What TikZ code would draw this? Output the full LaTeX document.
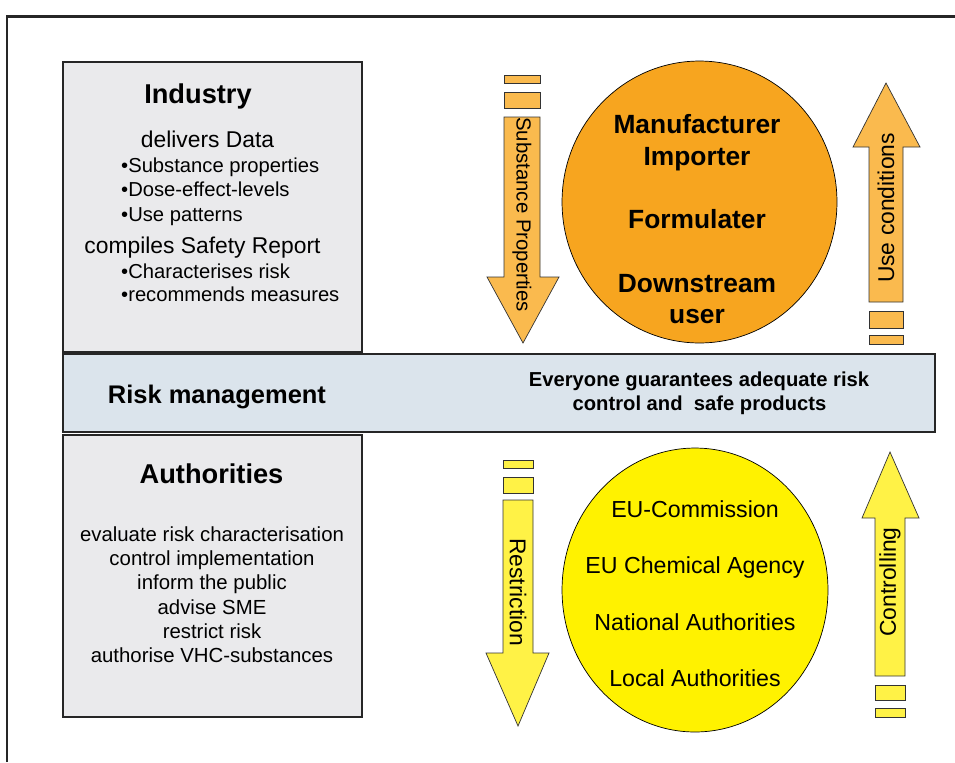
\documentclass[tikz,border=0pt]{standalone}
\usepackage{fontspec}
\setmainfont{Liberation Sans}
\usetikzlibrary{positioning,shapes.geometric}

\definecolor{panelgrey}{RGB}{234,234,236}
\definecolor{bandblue}{RGB}{219,228,236}
\definecolor{makerorange}{RGB}{247,165,31}
\definecolor{flowsorange}{RGB}{250,186,78}
\definecolor{officeyellow}{RGB}{255,242,0}
\definecolor{flowsyellow}{RGB}{255,242,70}

\tikzset{
  panel/.style={draw=black!85, line width=0.8pt, fill=panelgrey, inner sep=0pt},
  band/.style={draw=black!85, line width=0.8pt, fill=bandblue, inner sep=0pt},
  actor/.style={ellipse, draw=black, line width=0.4pt, inner sep=0pt},
  title/.style={font=\fontsize{15.5}{18}\selectfont\bfseries, anchor=base},
  subhead/.style={font=\fontsize{13}{15}\selectfont, anchor=base},
  bullet/.style={font=\fontsize{11.5}{14}\selectfont, anchor=base west},
  duty/.style={font=\fontsize{11.6}{14}\selectfont, anchor=base},
  maker/.style={font=\fontsize{15}{18}\selectfont\bfseries, anchor=base},
  office/.style={font=\fontsize{13.2}{16}\selectfont, anchor=base},
  flow/.style={draw=black!80, line width=0.4pt},
  flowlabel/.style={font=\fontsize{13}{15}\selectfont, inner sep=0pt}
}

\begin{document}
\begin{tikzpicture}[x=0.02cm, y=-0.02cm]
\useasboundingbox (0,0) rectangle (955,762);

% outer frame
\draw[line width=1.7pt, black!85] (7,762) -- (7,16) -- (955,16);

% panels and the middle band
\node (industry) [panel, minimum width=5.98cm, minimum height=5.8cm] at (212.5,207) {};
\node (authorities) [panel, minimum width=5.98cm, minimum height=5.64cm] at (212.5,576) {};
\node (riskband) [band, minimum width=17.44cm, minimum height=1.56cm] at (499,393) {};

% industry side
\node (indtitle) [title] at (198,103) {Industry};
\node (delivers) [subhead] at (207.5,147) {delivers Data};
\node (props) [bullet] at (115,172.7) {•Substance properties};
\node (dose) [bullet] at (115,196.7) {•Dose-effect-levels};
\node (usepat) [bullet] at (115,221.7) {•Use patterns};
\node (compiles) [subhead] at (202.5,253) {compiles Safety Report};
\node (charact) [bullet] at (115,278) {•Characterises risk};
\node (recomm) [bullet] at (115,301.7) {•recommends measures};

% risk management band
\node (rmtitle) [font=\fontsize{14.5}{17}\selectfont\bfseries, anchor=base] at (217,403) {Risk management};
\node (everyone) [font=\fontsize{11.5}{14}\selectfont\bfseries, anchor=base] at (699,386) {Everyone guarantees adequate risk};
\node (safe) [font=\fontsize{11.5}{14}\selectfont\bfseries, anchor=base] at (699.5,410) {control and\ \ safe products};

% authorities side
\node (authtitle) [title] at (211.5,483) {Authorities};
\node (evaluate) [duty] at (212,541.7) {evaluate risk characterisation};
\node (control) [duty] at (212,565.6) {control implementation};
\node (inform) [duty] at (212,589.6) {inform the public};
\node (advise) [duty] at (212,614) {advise SME};
\node (restrict) [duty] at (212,638) {restrict risk};
\node (authorise) [duty] at (212,662.7) {authorise VHC-substances};

% industry actors
\node (makers) [actor, fill=makerorange, minimum width=5.5cm, minimum height=5.64cm] at (699.5,202) {};
\node (manuf) [maker] at (697,133) {Manufacturer};
\node (importer) [maker] at (697,165) {Importer};
\node (formul) [maker] at (697,228) {Formulater};
\node (downstream) [maker] at (697,292) {Downstream};
\node (user) [maker] at (697,323) {user};

% public bodies
\node (offices) [actor, fill=officeyellow, minimum width=5.32cm, minimum height=5.68cm] at (695,590) {};
\node (commission) [office] at (695,517) {EU-Commission};
\node (agency) [office] at (695,573) {EU Chemical Agency};
\node (national) [office] at (695,630) {National Authorities};
\node (local) [office] at (695,686) {Local Authorities};

% substance properties, flowing down
\filldraw[flow, fill=flowsorange] (504,75) rectangle (540,83);
\filldraw[flow, fill=flowsorange] (504,92) rectangle (540,108);
\filldraw[flow, fill=flowsorange] (504,117) -- (540,117) -- (540,277) -- (559,277)
  -- (523,343) -- (487,277) -- (504,277) -- cycle;
\node (subprops) [flowlabel, font=\fontsize{11.6}{14}\selectfont, rotate=-90] at (522,214.5) {Substance Properties};

% use conditions, flowing up
\filldraw[flow, fill=flowsorange] (869,302) -- (869,147) -- (853,147) -- (886,83)
  -- (920,147) -- (903,147) -- (903,302) -- cycle;
\filldraw[flow, fill=flowsorange] (869,311) rectangle (903,328);
\filldraw[flow, fill=flowsorange] (869,335) rectangle (903,344);
\node (usecond) [flowlabel, rotate=90] at (886,208) {Use conditions};

% restriction, flowing down
\filldraw[flow, fill=flowsyellow] (503,460) rectangle (533,468);
\filldraw[flow, fill=flowsyellow] (503,477) rectangle (533,493);
\filldraw[flow, fill=flowsyellow] (503,500) -- (533,500) -- (533,653) -- (549,653)
  -- (518,726) -- (486,653) -- (503,653) -- cycle;
\node (restriction) [flowlabel, rotate=-90] at (518,592) {Restriction};

% controlling, flowing up
\filldraw[flow, fill=flowsyellow] (875,676) -- (875,518) -- (862,518) -- (890,452)
  -- (919,518) -- (905,518) -- (905,676) -- cycle;
\filldraw[flow, fill=flowsyellow] (875,685) rectangle (905,700);
\filldraw[flow, fill=flowsyellow] (875,708) rectangle (905,717);
\node (controlling) [flowlabel, rotate=90] at (890,582) {Controlling};
\end{tikzpicture}
\end{document}
